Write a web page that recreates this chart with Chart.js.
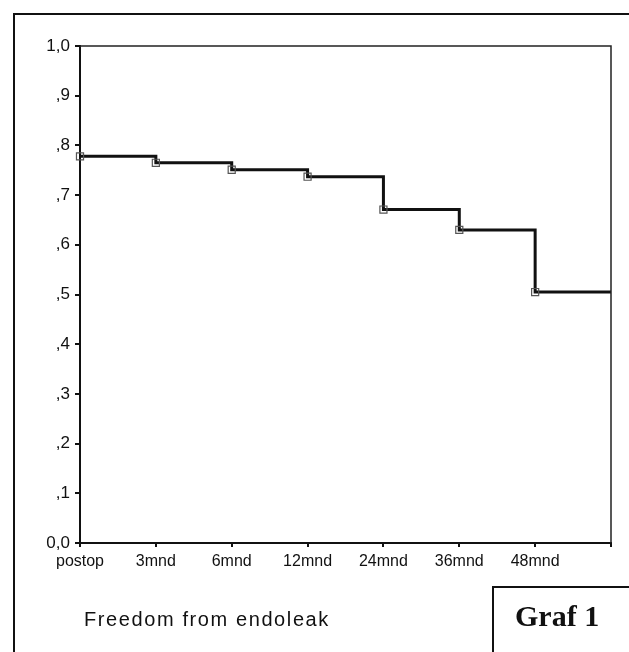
<!DOCTYPE html>
<html>
<head>
<meta charset="utf-8">
<script src="https://cdn.jsdelivr.net/npm/chart.js@4/dist/chart.umd.min.js"></script>
<style>
  html, body { margin: 0; padding: 0; background: #fff; }
  #page { position: relative; width: 629px; height: 652px; overflow: hidden; }
  #canvas { position: absolute; left: 0; top: 0; }
  .frame { position: absolute; left: 13px; top: 13px; width: 640px; height: 660px;
    border-left: 2px solid #111; border-top: 2px solid #111; }
  .caption { position: absolute; left: 84px; top: 608px; font-family: "Liberation Sans", Arial, sans-serif;
    font-size: 20px; letter-spacing: 1.6px; color: #111; }
  .graf { position: absolute; left: 492px; top: 586px; width: 160px; height: 80px;
    border-left: 2px solid #111; border-top: 2px solid #111; }
  .graf span { position: absolute; left: 21px; top: 11px; font-family: "Liberation Serif", "Times New Roman", serif;
    font-weight: bold; font-size: 30px; color: #111; }
</style>
</head>
<body>
<div id="page">
  <div class="frame"></div>
  <canvas id="canvas" width="629" height="652"></canvas>
  <div class="caption">Freedom from endoleak</div>
  <div class="graf"><span>Graf 1</span></div>
</div>
<script>
// follow-up points, survival (freedom from endoleak) and censor marks
const timeLabels = ['postop', '3mnd', '6mnd', '12mnd', '24mnd', '36mnd', '48mnd', '']
const timeSteps = [0, 1, 2, 3, 4, 5, 6, 7]
const survival = [0.778, 0.765, 0.751, 0.737, 0.671, 0.630, 0.505, 0.505]
const censored = [true, true, true, true, true, true, true, false]

const formatY = value => {
    const v = Math.round(value * 10)
    if (v === 0) return '0,0'
    if (v === 10) return '1,0'
    return ',' + v
}

// top and right border of the plot area
const plotFrame = {
    id: 'plotFrame',
    afterDraw: chart => {
        const { ctx, chartArea } = chart
        ctx.save()
        ctx.strokeStyle = '#222'
        ctx.lineWidth = 1.5
        ctx.beginPath()
        ctx.moveTo(chartArea.left, chartArea.top)
        ctx.lineTo(chartArea.right, chartArea.top)
        ctx.lineTo(chartArea.right, chartArea.bottom)
        ctx.stroke()
        ctx.restore()
    }
}

const tickFont = { family: '"Liberation Sans", Arial, sans-serif', size: 16 }

const ctx = document.querySelector('#canvas').getContext('2d')
const myChart = new Chart(ctx, {
    type: 'line',
    data: {
        datasets: [{
            label: 'Freedom from endoleak',
            data: timeSteps.map((t, i) => ({ x: t, y: survival[i] })),
            stepped: true,
            clip: false,
            borderColor: '#111',
            borderWidth: 3,
            fill: false,
            pointStyle: 'rect',
            pointRadius: censored.map(c => c ? 5 : 0),
            pointBorderColor: '#555',
            pointBorderWidth: 1.2,
            pointBackgroundColor: 'rgba(0,0,0,0)'
        }]
    },
    options: {
        responsive: false,
        animation: false,
        layout: {
            padding: { left: 0, right: 18, top: 46, bottom: 69 }
        },
        plugins: {
            legend: { display: false },
            tooltip: { enabled: false }
        },
        scales: {
            x: {
                type: 'linear',
                min: 0,
                max: 7,
                afterFit: scale => { scale.height = 40 },
                grid: { drawOnChartArea: false, drawTicks: true, tickLength: 4, color: '#111', lineWidth: 2 },
                border: { display: true, color: '#111', width: 2 },
                ticks: {
                    stepSize: 1,
                    autoSkip: false,
                    maxRotation: 0,
                    padding: 5,
                    color: '#111',
                    font: tickFont,
                    callback: value => timeLabels[value] ?? ''
                }
            },
            y: {
                min: 0,
                max: 1,
                afterFit: scale => { scale.width = 80 },
                grid: { drawOnChartArea: false, drawTicks: true, tickLength: 5, color: '#111', lineWidth: 2 },
                border: { display: true, color: '#111', width: 2 },
                ticks: {
                    stepSize: 0.1,
                    padding: 5,
                    color: '#111',
                    font: { family: '"Liberation Sans", Arial, sans-serif', size: 17 },
                    callback: formatY
                }
            }
        }
    },
    plugins: [plotFrame]
})
</script>
</body>
</html>
